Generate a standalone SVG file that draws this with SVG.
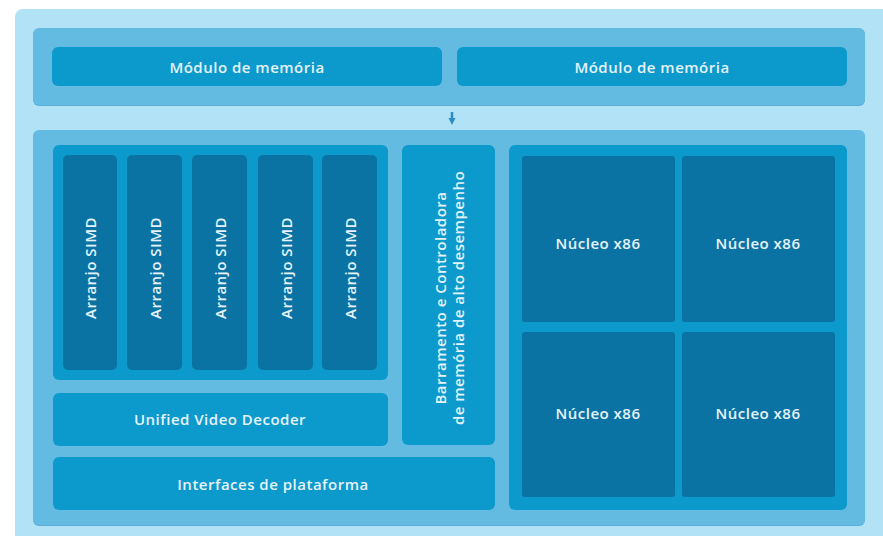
<svg xmlns="http://www.w3.org/2000/svg" width="883" height="536" viewBox="0 0 883 536">
<defs>
<style>
.bg{fill:#b1e2f6}
.band{fill:#64bbe2}
.mid{fill:#0c9acd}
.dark{fill:#0a73a4}
.t{font-family:"Open Sans","Liberation Sans",sans-serif;font-weight:600;font-size:15px;letter-spacing:0.5px;fill:#e6f3fa;text-anchor:middle;dominant-baseline:central}
</style>
<marker id="ah" markerWidth="7" markerHeight="8" refX="1" refY="3.5" orient="auto" markerUnits="userSpaceOnUse">
<path d="M0,0 L7,3.5 L0,7 Z" fill="#2d8ec4"/>
</marker>
</defs>
<rect width="883" height="536" fill="#ffffff"/>
<rect class="bg" x="15" y="9" width="880" height="540" rx="8"/>
<rect x="33" y="29" width="832" height="77" rx="6" fill="#5aaed6"/>
<rect class="band" x="33" y="28" width="832" height="77" rx="6"/>
<rect x="33" y="131" width="832" height="395" rx="6" fill="#5aaed6"/>
<rect class="band" x="33" y="130" width="832" height="395" rx="6"/>
<g id="mem1"><rect class="mid" x="52" y="47" width="390" height="39" rx="6"/><text class="t" x="247" y="67">Módulo de memória</text></g>
<g id="mem2"><rect class="mid" x="457" y="47" width="390" height="39" rx="6"/><text class="t" x="652" y="67">Módulo de memória</text></g>
<g id="connectors"><line x1="452" y1="112" x2="452" y2="119" stroke="#2d8ec4" stroke-width="2.5" marker-end="url(#ah)"/></g>
<g id="simd-group"><rect class="mid" x="53" y="145" width="335" height="235" rx="6"/></g>
<g id="simd1"><rect class="dark" x="63" y="155" width="54" height="215" rx="5"/><text class="t" transform="translate(90,268) rotate(-90)">Arranjo SIMD</text></g>
<g id="simd2"><rect class="dark" x="127" y="155" width="55" height="215" rx="5"/><text class="t" transform="translate(154.5,268) rotate(-90)">Arranjo SIMD</text></g>
<g id="simd3"><rect class="dark" x="192" y="155" width="55" height="215" rx="5"/><text class="t" transform="translate(219.5,268) rotate(-90)">Arranjo SIMD</text></g>
<g id="simd4"><rect class="dark" x="258" y="155" width="55" height="215" rx="5"/><text class="t" transform="translate(285.5,268) rotate(-90)">Arranjo SIMD</text></g>
<g id="simd5"><rect class="dark" x="322" y="155" width="55" height="215" rx="5"/><text class="t" transform="translate(349.5,268) rotate(-90)">Arranjo SIMD</text></g>
<g id="uvd"><rect class="mid" x="53" y="393" width="335" height="53" rx="6"/><text class="t" x="220" y="419">Unified Video Decoder</text></g>
<g id="platform"><rect class="mid" x="53" y="457" width="442" height="53" rx="6"/><text class="t" x="273" y="484">Interfaces de plataforma</text></g>
<g id="bus"><rect class="mid" x="402" y="145" width="93" height="300" rx="6"/><text class="t" transform="translate(449,298) rotate(-90)"><tspan x="0" dy="-9">Barramento e Controladora</tspan><tspan x="0" dy="18">de memória de alto desempenho</tspan></text></g>
<g id="cores"><rect class="mid" x="509" y="145" width="338" height="365" rx="6"/></g>
<g id="core1"><rect class="dark" x="522" y="156" width="153" height="166" rx="3"/><text class="t" x="598" y="243">Núcleo x86</text></g>
<g id="core2"><rect class="dark" x="682" y="156" width="153" height="166" rx="3"/><text class="t" x="758" y="243">Núcleo x86</text></g>
<g id="core3"><rect class="dark" x="522" y="332" width="153" height="165" rx="3"/><text class="t" x="598" y="413">Núcleo x86</text></g>
<g id="core4"><rect class="dark" x="682" y="332" width="153" height="165" rx="3"/><text class="t" x="758" y="413">Núcleo x86</text></g>
</svg>
